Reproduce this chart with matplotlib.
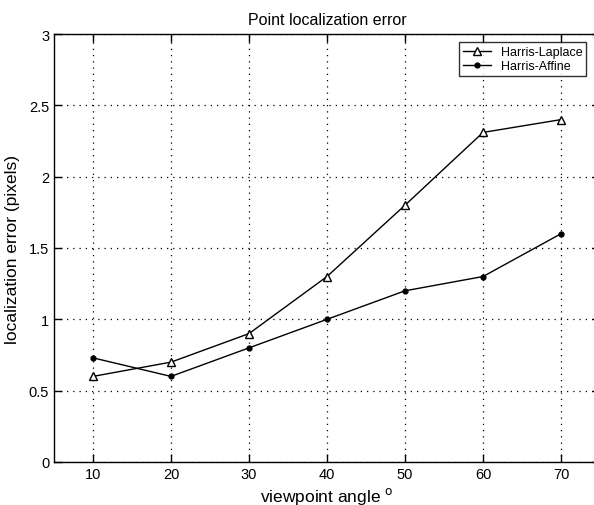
import matplotlib
matplotlib.use("Agg")
import matplotlib.pyplot as plt

plt.rcParams['font.family'] = ['Liberation Sans', 'DejaVu Sans']

angles = [10, 20, 30, 40, 50, 60, 70]
laplace = [0.60, 0.70, 0.90, 1.30, 1.80, 2.31, 2.40]
affine = [0.73, 0.60, 0.80, 1.00, 1.20, 1.30, 1.60]
yticks = [0, 0.5, 1, 1.5, 2, 2.5, 3]
yticklabels = ['0', '0.5', '1', '1.5', '2', '2.5', '3']

fig = plt.figure(figsize=(5.94, 5.06), dpi=100)
ax = fig.add_axes([54 / 594, 43 / 506, 546 / 594, 428 / 506])

ax.plot(angles, laplace, color='black', lw=1, marker='^', ms=6,
        mfc='white', mec='black', mew=1, label='Harris-Laplace')
ax.plot(angles, affine, color='black', lw=1, marker='o', ms=3.5,
        mfc='black', mec='black', label='Harris-Affine')

ax.set_xlim(5, 75)
ax.set_ylim(0, 3)
ax.set_xticks(angles)
ax.set_yticks(yticks)
ax.set_yticklabels(yticklabels)
ax.grid(True, color='black', linestyle=(0, (1, 4)), lw=0.9)
ax.tick_params(direction='in', top=True, right=True, length=6,
               labelsize=10.5, width=1)
for s in ax.spines.values():
    s.set_linewidth(1)

ax.set_title('Point localization error', fontsize=11.5, pad=7)
ax.set_xlabel('viewpoint angle $^{\\mathrm{o}}$', fontsize=12.5, labelpad=3)
ax.set_ylabel('localization error (pixels)', fontsize=12.5, labelpad=6)

leg = ax.legend(loc='upper left', bbox_to_anchor=(453 / 594, 1 - 37 / 506),
                bbox_transform=fig.transFigure, fontsize=9, frameon=True,
                fancybox=False, edgecolor='black', borderpad=0.3,
                handlelength=2.2, labelspacing=0.2)
leg.get_frame().set_linewidth(1)

fig.savefig('out.png', dpi=100)
